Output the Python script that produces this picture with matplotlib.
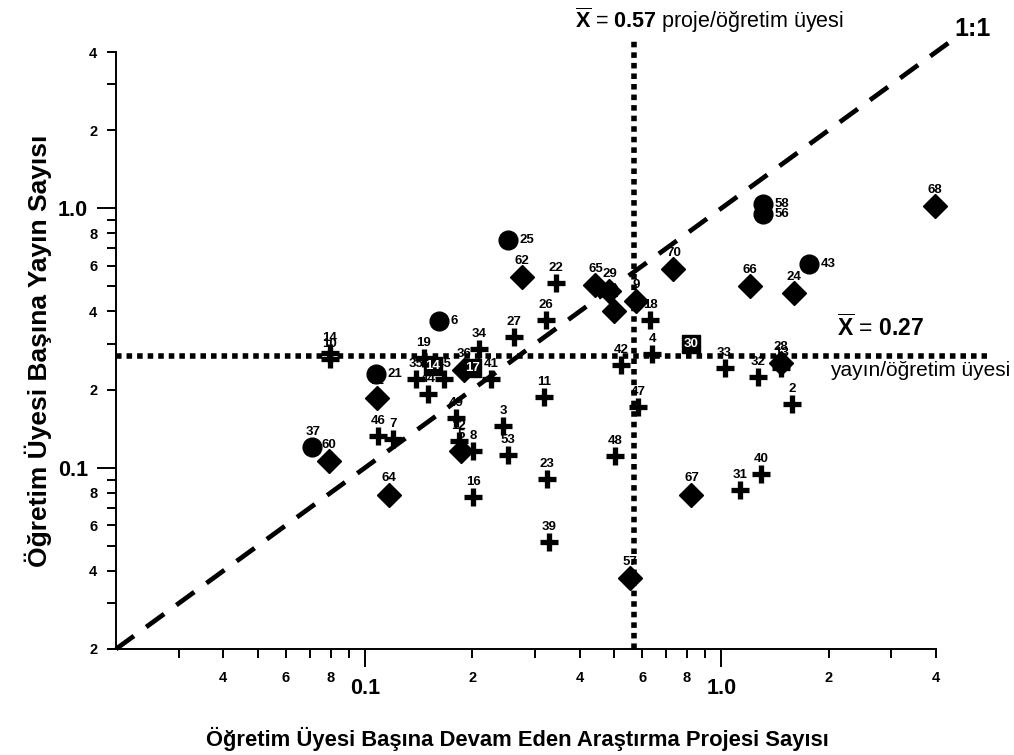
import numpy as np
import matplotlib.pyplot as plt
from matplotlib.ticker import FixedLocator, FuncFormatter

plt.rcParams['font.family'] = ['Liberation Sans', 'DejaVu Sans']
plt.rcParams['mathtext.fontset'] = 'custom'
plt.rcParams['mathtext.rm'] = 'Liberation Sans'
plt.rcParams['mathtext.bf'] = 'Liberation Sans:bold'

# daire (circle) points
daire_no = ['25', '6', '21', '37', '58', '56', '43']
daire_x = [0.251, 0.161, 0.107, 0.071, 1.31, 1.31, 1.76]
daire_y = [0.753, 0.367, 0.230, 0.120, 1.04, 0.948, 0.609]

# elmas (diamond) points
elmas_no = ['68', '62', '65', '29', '1', '9', '70', '66', '24', '28', '36',
            '71', '60', '64', '5', '67', '57']
elmas_x = [3.97, 0.276, 0.443, 0.485, 0.50, 0.577, 0.733, 1.20, 1.60, 1.47,
           0.190, 0.108, 0.0792, 0.117, 0.186, 0.824, 0.555]
elmas_y = [1.02, 0.543, 0.506, 0.480, 0.402, 0.439, 0.582, 0.501, 0.471,
           0.253, 0.238, 0.186, 0.106, 0.0787, 0.116, 0.0787, 0.0374]

# kare (square) points, number written inside
kare_no = ['30', '17', '14']
kare_x = [0.824, 0.200, 0.155]
kare_y = [0.300, 0.242, 0.247]

# arti (plus) points
arti_no = ['14', '10', '19', '34', '27', '35', '45', '44', '41', '49', '12',
           '8', '46', '7', '16', '3', '53', '22', '26', '11', '42', '18', '4',
           '47', '33', '32', '13', '2', '40', '31', '48', '23', '39']
arti_x = [0.0797, 0.0797, 0.146, 0.209, 0.262, 0.139, 0.167, 0.150, 0.226,
          0.180, 0.183, 0.201, 0.109, 0.120, 0.201, 0.244, 0.252, 0.344,
          0.321, 0.318, 0.524, 0.632, 0.640, 0.585, 1.02, 1.27, 1.47, 1.58,
          1.29, 1.13, 0.504, 0.324, 0.329]
arti_y = [0.277, 0.262, 0.265, 0.287, 0.319, 0.220, 0.220, 0.193, 0.220,
          0.156, 0.127, 0.116, 0.132, 0.129, 0.0773, 0.145, 0.112, 0.515,
          0.371, 0.187, 0.249, 0.371, 0.274, 0.172, 0.242, 0.224, 0.242,
          0.176, 0.0948, 0.0823, 0.111, 0.0907, 0.0515]

ort_proje = 0.57
ort_yayin = 0.27

fig = plt.figure(figsize=(10.14, 7.55), dpi=100)
ax = fig.add_axes([116/1014, 1-649/755, 820/1014, 597/755])
ax.set_xscale('log')
ax.set_yscale('log')
ax.set_xlim(0.02, 4.0)
ax.set_ylim(0.02, 4.0)

# reference lines
ax.plot([0.02, 4.45], [0.02, 4.45], color='k', lw=3.4, ls=(0, (4.7, 3.2)),
        dash_capstyle='butt', clip_on=False, zorder=2)
ax.plot([0.02, 5.55], [ort_yayin, ort_yayin], color='k', lw=4.0,
        ls=(0, (1, 0.9)), dash_capstyle='butt', clip_on=False, zorder=2)
ax.plot([ort_proje, ort_proje], [0.02, 4.5], color='k', lw=4.0,
        ls=(0, (1, 0.9)), dash_capstyle='butt', clip_on=False, zorder=2)

ax.plot(arti_x, arti_y, ls='none', marker='+', ms=12.5, mew=3.8, color='k',
        zorder=3, clip_on=False)
ax.plot(elmas_x, elmas_y, ls='none', marker='D', ms=12.5, color='k',
        zorder=3, clip_on=False)
ax.plot(daire_x, daire_y, ls='none', marker='o', ms=13.5, color='k',
        zorder=3, clip_on=False)
ax.plot(kare_x, kare_y, ls='none', marker='s', ms=13, color='k',
        zorder=4, clip_on=False)

lbl = dict(fontsize=9.5, fontweight='bold', textcoords='offset points')
for n, x, y in zip(arti_no, arti_x, arti_y):
    ax.annotate(n, (x, y), xytext=(0, 6.5), ha='center', va='bottom', **lbl)
for n, x, y in zip(elmas_no, elmas_x, elmas_y):
    ax.annotate(n, (x, y), xytext=(0, 7.5), ha='center', va='bottom', **lbl)
for n, x, y in zip(daire_no, daire_x, daire_y):
    if n == '37':
        ax.annotate(n, (x, y), xytext=(1, 6.5), ha='center', va='bottom', **lbl)
    else:
        ax.annotate(n, (x, y), xytext=(8.5, 0), ha='left', va='center', **lbl)
for n, x, y in zip(kare_no, kare_x, kare_y):
    ax.text(x, y, n, color='w', fontsize=9.5, fontweight='bold',
            ha='center', va='center', zorder=5)

# ticks
x_minor = [0.03, 0.04, 0.05, 0.06, 0.07, 0.08, 0.09,
           0.2, 0.3, 0.4, 0.5, 0.6, 0.7, 0.8, 0.9, 2, 3, 4]
y_minor = [0.02] + x_minor
etiketli = [0.02, 0.04, 0.06, 0.08, 0.2, 0.4, 0.6, 0.8, 2, 4]


def kucuk(v, pos):
    for e in etiketli:
        if abs(v - e) < 1e-6 * e:
            return str(int(round(v / 10 ** np.floor(np.log10(v) + 1e-9))))
    return ''


for axis, minor in ((ax.xaxis, x_minor), (ax.yaxis, y_minor)):
    axis.set_major_locator(FixedLocator([0.1, 1.0]))
    axis.set_major_formatter(FuncFormatter(lambda v, p: '0.1' if v < 0.5 else '1.0'))
    axis.set_minor_locator(FixedLocator(minor))
    axis.set_minor_formatter(FuncFormatter(kucuk))

ax.tick_params(which='both', direction='out', width=1.4, color='k')
ax.tick_params(axis='x', which='major', length=13, pad=8, labelsize=15.5)
ax.tick_params(axis='x', which='minor', length=6.5, pad=9, labelsize=10.5)
ax.tick_params(axis='y', which='major', length=14, pad=6, labelsize=15.5)
ax.tick_params(axis='y', which='minor', length=6.5, pad=7, labelsize=10.5)
for t in ax.get_xticklabels(which='both') + ax.get_yticklabels(which='both'):
    t.set_fontweight('bold')

ax.spines['top'].set_visible(False)
ax.spines['right'].set_visible(False)
ax.spines['left'].set_linewidth(1.4)
ax.spines['bottom'].set_linewidth(1.4)

ax.set_xlabel('Öğretim Üyesi Başına Devam Eden Araştırma Projesi Sayısı',
              fontsize=15.8, fontweight='bold')
ax.set_ylabel('Öğretim Üyesi Başına Yayın Sayısı', fontsize=19, fontweight='bold')
ax.xaxis.set_label_coords(0.489, -0.13)
ax.yaxis.set_label_coords(-0.078, 0.5)

fig.text(575/1014, 1-20/755, r'$\overline{\mathbf{X}}$ = $\mathbf{0.57}$ proje/öğretim üyesi',
         fontsize=15.5, ha='left', va='center')
fig.text(954/1014, 1-29/755, '1:1', fontsize=18, fontweight='bold', ha='left', va='center')
fig.text(837/1014, 1-328/755, r'$\overline{\mathbf{X}}$ = $\mathbf{0.27}$',
         fontsize=16.5, ha='left', va='center')
fig.text(830/1014, 1-371/755, 'yayın/öğretim üyesi', fontsize=15, ha='left', va='center')

fig.savefig('out.png', dpi=100)
